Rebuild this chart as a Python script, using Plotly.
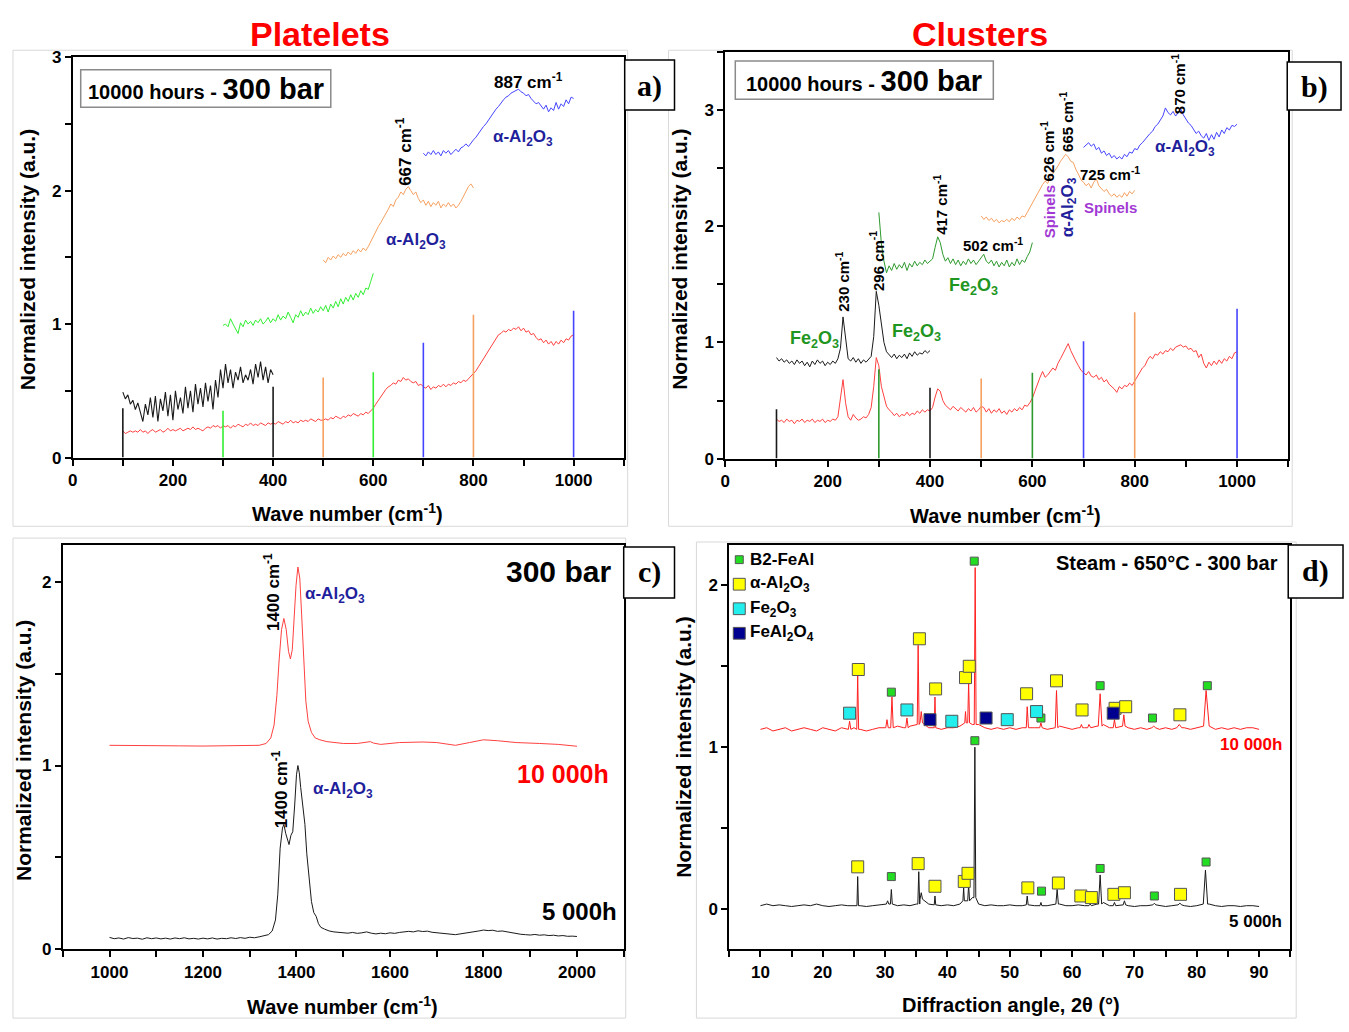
import plotly.graph_objects as go

W, H = 1349, 1032
SANS = "Liberation Sans, Arial, sans-serif"
SERIF = "Liberation Serif, Times New Roman, serif"

# ---------------- (a) Platelets, Raman spectra ----------------
a_black_x = list(range(100, 405, 5))
a_black_y = [0.49, 0.44, 0.47, 0.40, 0.43, 0.36, 0.41, 0.33, 0.27, 0.40, 0.32, 0.45, 0.30, 0.46, 0.27,
             0.44, 0.35, 0.49, 0.31, 0.47, 0.28, 0.50, 0.36, 0.45, 0.33, 0.53, 0.37, 0.50, 0.34, 0.55,
             0.40, 0.52, 0.38, 0.56, 0.42, 0.54, 0.36, 0.58, 0.45, 0.66, 0.52, 0.70, 0.56, 0.66, 0.52,
             0.64, 0.58, 0.68, 0.56, 0.62, 0.58, 0.66, 0.55, 0.70, 0.60, 0.72, 0.58, 0.68, 0.56, 0.66, 0.62]
a_green_x = list(range(300, 605, 5))
a_green_y = [0.99, 1.00, 0.98, 1.04, 1.00, 0.96, 0.93, 1.01, 0.98, 1.03, 1.00, 1.02, 0.99, 1.03, 1.01,
             1.04, 1.00, 1.02, 1.05, 1.01, 1.04, 1.02, 1.07, 1.03, 1.06, 1.04, 1.09, 1.05, 1.01, 1.07,
             1.05, 1.10, 1.06, 1.09, 1.07, 1.12, 1.08, 1.11, 1.09, 1.13, 1.10, 1.14, 1.09, 1.15, 1.12,
             1.17, 1.13, 1.19, 1.15, 1.20, 1.17, 1.22, 1.18, 1.23, 1.20, 1.25, 1.22, 1.27, 1.26, 1.32, 1.38]
a_orange_x = list(range(500, 805, 5))
a_orange_y = [1.48, 1.46, 1.50, 1.48, 1.51, 1.49, 1.52, 1.50, 1.53, 1.51, 1.54, 1.52, 1.55, 1.53, 1.56,
              1.54, 1.57, 1.55, 1.58, 1.62, 1.66, 1.69, 1.73, 1.76, 1.79, 1.83, 1.86, 1.90, 1.88, 1.93,
              1.95, 1.99, 1.97, 2.01, 2.03, 2.00, 1.97, 1.99, 1.94, 1.91, 1.93, 1.89, 1.92, 1.88, 1.91,
              1.89, 1.92, 1.87, 1.90, 1.88, 1.91, 1.88, 1.90, 1.87, 1.89, 1.92, 1.96, 1.99, 2.03, 2.05, 2.02]
a_blue_x = list(range(700, 1005, 5))
a_blue_y = [2.28, 2.26, 2.29, 2.27, 2.30, 2.27, 2.29, 2.26, 2.30, 2.28, 2.30, 2.27, 2.29, 2.31, 2.29,
            2.32, 2.33, 2.35, 2.33, 2.36, 2.38, 2.40, 2.43, 2.45, 2.48, 2.50, 2.53, 2.55, 2.58, 2.61,
            2.63, 2.66, 2.68, 2.70, 2.71, 2.73, 2.74, 2.75, 2.76, 2.74, 2.73, 2.71, 2.72, 2.69, 2.67,
            2.65, 2.66, 2.63, 2.61, 2.64, 2.59, 2.62, 2.60, 2.66, 2.61, 2.65, 2.63, 2.68, 2.65, 2.70, 2.69]
a_red_x = list(range(100, 1005, 5))
a_red_y = [0.20, 0.18, 0.19, 0.20, 0.19, 0.20, 0.19, 0.21, 0.19, 0.20, 0.18, 0.20, 0.21, 0.19, 0.20,
           0.21, 0.19, 0.20, 0.22, 0.20, 0.21,
           0.20, 0.21, 0.22, 0.20, 0.21, 0.22, 0.21, 0.23, 0.21, 0.22, 0.21, 0.20, 0.22, 0.23, 0.22,
           0.24, 0.23, 0.24, 0.22, 0.24,
           0.23, 0.24, 0.22, 0.24, 0.23, 0.25, 0.24, 0.23, 0.25, 0.24, 0.26, 0.24, 0.25, 0.24, 0.26,
           0.25, 0.24, 0.26, 0.25, 0.26,
           0.25, 0.27, 0.26, 0.25, 0.27, 0.26, 0.28, 0.26, 0.27, 0.26, 0.28, 0.27, 0.28, 0.27, 0.29,
           0.28, 0.27, 0.29, 0.28, 0.28,
           0.29, 0.28, 0.30, 0.29, 0.31, 0.30, 0.29, 0.31, 0.30, 0.32, 0.31, 0.33, 0.32, 0.31, 0.33,
           0.32, 0.34, 0.33, 0.35, 0.37,
           0.40, 0.43, 0.46, 0.48, 0.51, 0.53, 0.54, 0.56, 0.55, 0.58, 0.57, 0.60, 0.58, 0.59, 0.57,
           0.56, 0.57, 0.54, 0.55, 0.53,
           0.52, 0.54, 0.51, 0.53, 0.52, 0.54, 0.53, 0.55, 0.53, 0.55, 0.54, 0.56, 0.55, 0.57, 0.56,
           0.58, 0.57, 0.59, 0.61, 0.63,
           0.65, 0.68, 0.71, 0.74, 0.77, 0.81, 0.84, 0.87, 0.90, 0.92, 0.93, 0.95, 0.94, 0.96, 0.95,
           0.97, 0.96, 0.98, 0.95, 0.97,
           0.94, 0.95, 0.92, 0.93, 0.90, 0.88, 0.89, 0.86, 0.88, 0.85, 0.87, 0.84, 0.87, 0.85, 0.88,
           0.86, 0.89, 0.88, 0.91, 0.92]
# reference bars marking the ends of each acquisition window
a_ref_x = [100, 400, 300, 600, 500, 800, 700, 1000]
a_ref_top = [0.37, 0.53, 0.35, 0.64, 0.60, 1.07, 0.86, 1.10]

# ---------------- (b) Clusters, Raman spectra ----------------
b_black_x = list(range(100, 405, 5))
b_black_y = [0.87, 0.84, 0.86, 0.83, 0.85, 0.82, 0.84, 0.81, 0.85, 0.82, 0.84, 0.80, 0.83, 0.79, 0.84,
             0.81, 0.85, 0.82, 0.84, 0.80, 0.83, 0.81, 0.84, 0.82, 0.86, 0.95, 1.22, 1.02, 0.86, 0.84,
             0.87, 0.83, 0.86, 0.82, 0.85, 0.83, 0.86, 0.88, 1.05, 1.44, 1.32, 1.15, 1.00, 0.92, 0.89,
             0.87, 0.90, 0.86, 0.89, 0.87, 0.90, 0.86, 0.91, 0.88, 0.92, 0.89, 0.91, 0.90, 0.93, 0.91, 0.93]
b_green_x = list(range(300, 605, 5))
b_green_y = [2.12, 1.85, 1.70, 1.60, 1.66, 1.62, 1.68, 1.63, 1.67, 1.64, 1.69, 1.62, 1.68, 1.65, 1.70,
             1.66, 1.69, 1.67, 1.71, 1.68, 1.70, 1.72, 1.82, 1.91, 1.86, 1.76, 1.70, 1.73, 1.68, 1.72,
             1.67, 1.71, 1.66, 1.70, 1.67, 1.72, 1.68, 1.71, 1.67, 1.70, 1.74, 1.76, 1.70, 1.68, 1.71,
             1.66, 1.70, 1.65, 1.69, 1.66, 1.71, 1.65, 1.69, 1.66, 1.72, 1.67, 1.71, 1.69, 1.74, 1.78, 1.86]
b_orange_x = list(range(500, 805, 5))
b_orange_y = [2.09, 2.06, 2.08, 2.05, 2.07, 2.04, 2.06, 2.03, 2.05, 2.04, 2.06, 2.04, 2.07, 2.05, 2.08,
              2.06, 2.09, 2.08, 2.12, 2.16, 2.20, 2.25, 2.28, 2.32, 2.36, 2.39, 2.37, 2.42, 2.45, 2.48,
              2.52, 2.56, 2.59, 2.62, 2.60, 2.56, 2.55, 2.49, 2.45, 2.40, 2.38, 2.35, 2.37, 2.33, 2.38,
              2.41, 2.35, 2.32, 2.30, 2.32, 2.28, 2.26, 2.28, 2.25, 2.27, 2.25, 2.29, 2.26, 2.30, 2.28, 2.31]
b_blue_x = list(range(700, 1005, 5))
b_blue_y = [2.68, 2.70, 2.72, 2.69, 2.71, 2.66, 2.68, 2.63, 2.65, 2.61, 2.63, 2.59, 2.61, 2.58, 2.60,
            2.58, 2.62, 2.60, 2.64, 2.63, 2.67, 2.66, 2.70, 2.72, 2.75, 2.77, 2.80, 2.82, 2.86, 2.88,
            2.91, 2.95, 3.02, 2.98, 2.96, 2.99, 2.95, 2.98, 3.01, 2.96, 2.92, 2.89, 2.87, 2.84, 2.80,
            2.82, 2.78, 2.76, 2.80, 2.74, 2.79, 2.75, 2.81, 2.77, 2.83, 2.80, 2.85, 2.83, 2.87, 2.86, 2.88]
b_red_x = list(range(100, 1005, 5))
b_red_y = [0.34, 0.32, 0.33, 0.31, 0.34, 0.32, 0.33, 0.30, 0.33, 0.32, 0.34, 0.31, 0.33, 0.32, 0.34,
           0.31, 0.33, 0.32, 0.34, 0.31, 0.33,
           0.32, 0.34, 0.33, 0.36, 0.50, 0.68, 0.48, 0.36, 0.33, 0.38, 0.35, 0.33, 0.34, 0.36, 0.35,
           0.38, 0.44, 0.62, 0.87, 0.80,
           0.62, 0.52, 0.45, 0.42, 0.40, 0.37, 0.39, 0.36, 0.38, 0.37, 0.40, 0.37, 0.39, 0.38, 0.41,
           0.39, 0.42, 0.40, 0.42, 0.41,
           0.44, 0.53, 0.60, 0.58, 0.50, 0.46, 0.44, 0.42, 0.45, 0.43, 0.41, 0.44, 0.42, 0.40, 0.43,
           0.41, 0.44, 0.40, 0.42, 0.45,
           0.44, 0.40, 0.43, 0.39, 0.42, 0.40, 0.43, 0.39, 0.41, 0.38, 0.42, 0.40, 0.43, 0.41, 0.44,
           0.42, 0.46, 0.45, 0.48, 0.52,
           0.58, 0.65, 0.70, 0.75, 0.70, 0.72, 0.75, 0.78, 0.76, 0.82, 0.86, 0.90, 0.94, 0.99, 0.93,
           0.88, 0.84, 0.80, 0.76, 0.74,
           0.72, 0.75, 0.71, 0.70, 0.72, 0.68, 0.70, 0.66, 0.68, 0.64, 0.62, 0.60, 0.57, 0.62, 0.60,
           0.63, 0.62, 0.65, 0.63, 0.67,
           0.70, 0.74, 0.78, 0.80, 0.85, 0.88, 0.86, 0.90, 0.89, 0.92, 0.90, 0.93, 0.92, 0.95, 0.93,
           0.96, 0.97, 0.98, 0.96, 0.97,
           0.94, 0.95, 0.92, 0.93, 0.87, 0.90, 0.82, 0.78, 0.83, 0.80, 0.84, 0.81, 0.85, 0.82, 0.86,
           0.84, 0.88, 0.86, 0.91, 0.92]
b_ref_x = [100, 400, 300, 600, 500, 800, 700, 1000]
b_ref_top = [0.425, 0.61, 0.77, 0.74, 0.69, 1.26, 1.01, 1.29]

# ---------------- (c) 1000-2000 cm-1 region ----------------
c_red_x = [1000, 1050, 1100, 1150, 1200, 1250, 1300, 1320, 1335, 1345, 1352, 1358, 1363, 1368, 1373,
           1378, 1383, 1387, 1391, 1395, 1399, 1403, 1407, 1411, 1415, 1420, 1425, 1432, 1440, 1450,
           1465, 1480, 1500, 1530, 1550, 1558, 1565, 1580, 1620, 1670, 1700, 1740, 1770, 1800, 1830,
           1870, 1920, 1960, 2000]
c_red_y = [1.110, 1.108, 1.108, 1.107, 1.106, 1.106, 1.107, 1.110, 1.120, 1.150, 1.220, 1.380, 1.580,
           1.740, 1.800, 1.740, 1.620, 1.580, 1.630, 1.800, 1.980, 2.080, 2.020, 1.820, 1.580, 1.350,
           1.240, 1.180, 1.150, 1.140, 1.130, 1.125, 1.120, 1.120, 1.125, 1.130, 1.122, 1.115, 1.125,
           1.128, 1.125, 1.110, 1.125, 1.140, 1.135, 1.125, 1.120, 1.115, 1.105]
c_black_x = ([1000, 1010, 1020, 1030, 1040, 1050, 1060, 1070, 1080, 1090, 1100, 1110, 1120, 1130, 1140,
              1150, 1160, 1170, 1180, 1190, 1200, 1210, 1220, 1230, 1240, 1250, 1260, 1270, 1280, 1290,
              1300, 1310, 1320, 1330]
             + [1340, 1348, 1355, 1360, 1365, 1370, 1373, 1377, 1381, 1384, 1388, 1392, 1396, 1400, 1403,
                1406, 1409, 1412, 1415, 1418, 1422, 1427, 1432, 1437, 1442, 1447, 1452, 1460, 1470, 1480,
                1490]
             + [1500, 1510, 1520, 1530, 1540, 1550, 1560, 1570, 1580, 1590, 1600, 1610, 1620, 1630, 1640,
                1650, 1660, 1670, 1680, 1690, 1700, 1710, 1720, 1730, 1740, 1750, 1760, 1770, 1780, 1790,
                1800, 1810, 1820, 1830, 1840, 1850, 1860, 1870, 1880, 1890, 1900, 1910, 1920, 1930, 1940,
                1950, 1960, 1970, 1980, 1990, 2000])
c_black_y = ([0.065, 0.058, 0.062, 0.056, 0.064, 0.059, 0.061, 0.055, 0.063, 0.058, 0.062, 0.057, 0.061,
              0.056, 0.062, 0.058, 0.063, 0.057, 0.060, 0.056, 0.061, 0.057, 0.062, 0.056, 0.060, 0.058,
              0.063, 0.059, 0.064, 0.060, 0.066, 0.063, 0.068, 0.072]
             + [0.080, 0.100, 0.160, 0.300, 0.550, 0.660, 0.680, 0.630, 0.600, 0.570, 0.620, 0.640, 0.780,
                0.950, 1.000, 0.960, 0.880, 0.800, 0.760, 0.680, 0.520, 0.380, 0.260, 0.200, 0.180, 0.140,
                0.120, 0.110, 0.100, 0.095, 0.092]
             + [0.090, 0.088, 0.092, 0.087, 0.090, 0.095, 0.088, 0.084, 0.088, 0.085, 0.090, 0.087, 0.092,
                0.094, 0.098, 0.095, 0.101, 0.097, 0.099, 0.093, 0.090, 0.087, 0.085, 0.082, 0.080, 0.084,
                0.087, 0.090, 0.095, 0.100, 0.105, 0.102, 0.104, 0.098, 0.100, 0.095, 0.090, 0.084, 0.082,
                0.080, 0.078, 0.081, 0.077, 0.079, 0.075, 0.077, 0.073, 0.075, 0.071, 0.072, 0.070])

# ---------------- (d) XRD patterns ----------------
d_base_x = list(range(10, 91))
d_red_base = [1.11, 1.12, 1.10, 1.11, 1.12, 1.10, 1.11, 1.12, 1.11, 1.10, 1.12, 1.11, 1.10, 1.12, 1.11,
              1.12, 1.11, 1.10, 1.11, 1.12, 1.12, 1.12, 1.13, 1.12, 1.13, 1.14, 1.15, 1.12, 1.12, 1.11,
              1.12, 1.12, 1.13, 1.15, 1.14, 1.14, 1.12, 1.11, 1.12, 1.11, 1.12, 1.11, 1.12, 1.12, 1.12,
              1.12, 1.11, 1.12, 1.13, 1.12, 1.11, 1.12, 1.12, 1.12, 1.13, 1.14, 1.12, 1.12, 1.13, 1.12,
              1.11, 1.12, 1.11, 1.12, 1.11, 1.12, 1.11, 1.12, 1.12, 1.11, 1.12, 1.13, 1.13, 1.11, 1.12,
              1.11, 1.12, 1.11, 1.12, 1.12, 1.11]
d_black_base = [0.020, 0.030, 0.020, 0.025, 0.020, 0.015, 0.020, 0.025, 0.020, 0.030, 0.020, 0.015,
                0.020, 0.025, 0.020, 0.020, 0.020, 0.015, 0.020, 0.025, 0.030, 0.030, 0.020, 0.025,
                0.020, 0.030, 0.060, 0.030, 0.025, 0.020, 0.025, 0.020, 0.030, 0.050, 0.070, 0.030,
                0.020, 0.025, 0.020, 0.020, 0.025, 0.020, 0.020, 0.025, 0.020, 0.020, 0.020, 0.025,
                0.030, 0.020, 0.020, 0.025, 0.020, 0.020, 0.030, 0.040, 0.020, 0.020, 0.025, 0.020,
                0.015, 0.020, 0.020, 0.025, 0.020, 0.015, 0.020, 0.025, 0.020, 0.015, 0.020, 0.030,
                0.030, 0.020, 0.015, 0.020, 0.020, 0.015, 0.020, 0.020, 0.015]
# reflections: 2-theta position, peak intensity, half width at the foot
d_red_pk_pos = [24.3, 25.6, 30.3, 31.1, 33.5, 35.3, 35.8, 38.0, 42.9, 43.4, 44.45, 52.8, 55.0, 57.5,
                61.5, 62.7, 64.5, 66.8, 68.3, 73.1, 77.2, 81.5]
d_red_pk_h = [1.16, 1.44, 1.17, 1.31, 1.18, 1.63, 1.22, 1.31, 1.22, 1.40, 2.11, 1.25, 1.15, 1.35,
              1.14, 1.14, 1.33, 1.17, 1.20, 1.13, 1.14, 1.35]
d_red_pk_hw = [0.2, 0.15, 0.2, 0.2, 0.2, 0.15, 0.2, 0.12, 0.12, 0.15, 0.15, 0.15, 0.2, 0.2,
               0.2, 0.2, 0.3, 0.2, 0.2, 0.3, 0.4, 0.4]
d_black_pk_pos = [25.6, 30.4, 31.0, 35.4, 35.8, 38.0, 42.6, 43.4, 44.4, 52.8, 55.0, 57.6, 62.9, 64.5,
                  66.8, 68.4, 73.2, 77.3, 81.4]
d_black_pk_h = [0.20, 0.05, 0.12, 0.23, 0.10, 0.08, 0.13, 0.15, 1.00, 0.08, 0.04, 0.12, 0.03, 0.21,
                0.04, 0.05, 0.035, 0.035, 0.24]
d_black_pk_hw = [0.12, 0.2, 0.15, 0.15, 0.2, 0.12, 0.12, 0.15, 0.15, 0.15, 0.15, 0.2, 0.2, 0.25,
                 0.2, 0.2, 0.25, 0.3, 0.35]
# phase identification markers
fe_al_x = [31.0, 44.3, 55.0, 64.5, 72.9, 81.7, 31.0, 44.4, 55.1, 64.5, 73.2, 81.5]
fe_al_y = [1.34, 2.15, 1.18, 1.38, 1.18, 1.38, 0.20, 1.04, 0.11, 0.25, 0.08, 0.29]
alumina_x = [25.7, 35.5, 38.1, 42.9, 43.5, 52.7, 57.5, 61.6, 66.9, 68.6, 77.3,
             25.6, 35.3, 38.0, 42.7, 43.3, 52.9, 57.8, 61.4, 63.1, 66.7, 68.4, 77.4]
alumina_y = [1.48, 1.67, 1.36, 1.43, 1.50, 1.33, 1.41, 1.23, 1.24, 1.25, 1.20,
             0.26, 0.28, 0.14, 0.17, 0.22, 0.13, 0.16, 0.08, 0.07, 0.09, 0.10, 0.09]
hematite_x = [24.3, 33.5, 40.7, 49.6, 54.3]
hematite_y = [1.21, 1.23, 1.16, 1.17, 1.22]
spinel_x = [37.2, 46.2, 66.6]
spinel_y = [1.17, 1.18, 1.21]
legend_labels = ["B2-FeAl", "α-Al<sub>2</sub>O<sub>3</sub>", "Fe<sub>2</sub>O<sub>3</sub>",
                 "FeAl<sub>2</sub>O<sub>4</sub>"]


def xrd_profile(base_x, base_y, pk_pos, pk_h, pk_hw):
    """Merge a background with narrow triangular reflections."""
    pts = [(bx, by) for bx, by in zip(base_x, base_y)
           if all(abs(bx - p) > w for p, w in zip(pk_pos, pk_hw))]
    for p, h, w in zip(pk_pos, pk_h, pk_hw):
        i = min(range(len(base_x)), key=lambda k: abs(base_x[k] - p))
        b = base_y[i]
        pts += [(p - w, b), (p, h), (p + w, b)]
    pts.sort()
    return [q[0] for q in pts], [q[1] for q in pts]


for xs, ys in [(a_black_x, a_black_y), (a_green_x, a_green_y), (a_orange_x, a_orange_y),
               (a_blue_x, a_blue_y), (a_red_x, a_red_y), (b_black_x, b_black_y),
               (b_green_x, b_green_y), (b_orange_x, b_orange_y), (b_blue_x, b_blue_y),
               (b_red_x, b_red_y), (c_red_x, c_red_y), (c_black_x, c_black_y),
               (d_base_x, d_red_base), (d_base_x, d_black_base)]:
    assert len(xs) == len(ys), (len(xs), len(ys))

RED = "#ff4040"
BLACK = "#1a1a1a"
LIME = "#33ee33"
DKGREEN = "#2e9a2e"
ORANGE = "#f5a060"
BLUE = "#4545ff"
NAVY = "#1f1f9c"
TXTGREEN = "#1f961f"
MAGENTA = "#a238d4"

fig = go.Figure()


def line(xs, ys, color, ax, width=1.0):
    fig.add_trace(go.Scatter(x=xs, y=ys, mode="lines", line=dict(color=color, width=width),
                             xaxis="x" + ax, yaxis="y" + ax, showlegend=False, hoverinfo="skip"))


def ref_bars(xs, tops, colors, ax):
    for x, t, c in zip(xs, tops, colors):
        line([x, x], [0, t], c, ax, width=1.6)


# panel a
line(a_red_x, a_red_y, RED, "")
line(a_black_x, a_black_y, BLACK, "", 1.1)
line(a_green_x, a_green_y, LIME, "")
line(a_orange_x, a_orange_y, ORANGE, "")
line(a_blue_x, a_blue_y, BLUE, "")
ref_bars(a_ref_x, a_ref_top, [BLACK, BLACK, LIME, LIME, ORANGE, ORANGE, BLUE, BLUE], "")

# panel b
line(b_red_x, b_red_y, RED, "2")
line(b_black_x, b_black_y, BLACK, "2")
line(b_green_x, b_green_y, DKGREEN, "2")
line(b_orange_x, b_orange_y, ORANGE, "2")
line(b_blue_x, b_blue_y, BLUE, "2")
ref_bars(b_ref_x, b_ref_top, [BLACK, BLACK, DKGREEN, DKGREEN, ORANGE, ORANGE, BLUE, BLUE], "2")

# panel c
line(c_red_x, c_red_y, RED, "3")
line(c_black_x, c_black_y, BLACK, "3")

# panel d
rx, ry = xrd_profile(d_base_x, d_red_base, d_red_pk_pos, d_red_pk_h, d_red_pk_hw)
bx, by = xrd_profile(d_base_x, d_black_base, d_black_pk_pos, d_black_pk_h, d_black_pk_hw)
line(rx, ry, "#ff2020", "4")
line(bx, by, BLACK, "4")

phase_styles = [("#22dd22", 8), ("#ffff00", 12), ("#22eeee", 12), ("#000090", 12)]
for (px_, py_), (col, sz) in zip([(fe_al_x, fe_al_y), (alumina_x, alumina_y),
                                  (hematite_x, hematite_y), (spinel_x, spinel_y)], phase_styles):
    fig.add_trace(go.Scatter(x=px_, y=py_, mode="markers", xaxis="x4", yaxis="y4", showlegend=False,
                             marker=dict(symbol="square", size=sz, color=col,
                                         line=dict(color="#555555", width=1)),
                             hoverinfo="skip"))


def dom(x0, x1, y0, y1):
    return [x0 / W, x1 / W], [1 - y1 / H, 1 - y0 / H]


TICKFONT = dict(family=SANS, size=17, color="black", weight="bold")


def axis(rng, domain, anchor, vals, labels):
    return dict(range=rng, domain=domain, anchor=anchor, showline=True, linewidth=2, linecolor="black",
                mirror=True, ticks="outside", ticklen=6, tickwidth=1.5, tickcolor="black",
                tickvals=vals, ticktext=labels, tickfont=TICKFONT, showgrid=False, zeroline=False)


def labels_every(vals, step, fmt=str):
    return [fmt(v) if abs(v / step - round(v / step)) < 1e-9 else "" for v in vals]


ax_a_x = list(range(0, 1200, 100))
ax_a_y = [0, 0.5, 1, 1.5, 2, 2.5, 3]
ax_b_y = [0, 0.5, 1, 1.5, 2, 2.5, 3, 3.5]
ax_c_x = list(range(900, 2200, 100))
ax_c_y = [0, 0.5, 1, 1.5, 2]
ax_d_x = list(range(5, 100, 5))
ax_d_y = [0, 0.5, 1, 1.5, 2]

fmt_int = lambda v: str(int(v))

xd, yd = dom(68, 621, 49, 457)
fig.update_layout(xaxis=axis([0, 1100], xd, "y", ax_a_x, labels_every(ax_a_x, 200, fmt_int)),
                  yaxis=axis([0, 3], yd, "x", ax_a_y, labels_every(ax_a_y, 1, fmt_int)))
xd, yd = dom(723, 1288, 44, 458)
fig.update_layout(xaxis2=axis([0, 1100], xd, "y2", ax_a_x, labels_every(ax_a_x, 200, fmt_int)),
                  yaxis2=axis([0, 3.5], yd, "x2", ax_b_y, labels_every(ax_b_y, 1, fmt_int)))
xd, yd = dom(58, 621, 546, 958)
fig.update_layout(xaxis3=axis([900, 2100], xd, "y3", ax_c_x, labels_every(ax_c_x, 200, fmt_int)),
                  yaxis3=axis([0, 2.2], yd, "x3", ax_c_y, labels_every(ax_c_y, 1, fmt_int)))
xd, yd = dom(727, 1290, 546, 958)
fig.update_layout(xaxis4=axis([5, 95], xd, "y4", ax_d_x, labels_every(ax_d_x, 10, fmt_int)),
                  yaxis4=axis([-0.25, 2.25], yd, "x4", ax_d_y, labels_every(ax_d_y, 1, fmt_int)))

ann = []
shapes = []


def note(txt, x, y, size, color="black", angle=0, bold=True, family=SANS, xanchor="center"):
    ann.append(dict(text=f"<b>{txt}</b>" if bold else txt, x=x / W, y=1 - y / H, xref="paper",
                    yref="paper", showarrow=False, textangle=angle, xanchor=xanchor, yanchor="middle",
                    font=dict(size=size, color=color, family=family)))


def rect(x0, y0, x1, y1, color, width, fill=None, layer="above"):
    shapes.append(dict(type="rect", xref="paper", yref="paper", x0=x0 / W, x1=x1 / W,
                       y0=1 - y1 / H, y1=1 - y0 / H, line=dict(color=color, width=width),
                       fillcolor=fill if fill else "rgba(0,0,0,0)", layer=layer))


CM = "cm<sup>-1</sup>"
AL2O3 = "α-Al<sub>2</sub>O<sub>3</sub>"
FE2O3 = "Fe<sub>2</sub>O<sub>3</sub>"
YT = "Normalized intensity (a.u.)"
XT = f"Wave number ({CM})"

# panel frames
rect(8, 42, 625, 527, "#d9d9d9", 1, layer="below")
rect(666, 42, 1292, 527, "#d9d9d9", 1, layer="below")
rect(8, 539, 623, 1028, "#d9d9d9", 1, layer="below")
rect(694, 543, 1296, 1028, "#d9d9d9", 1, layer="below")

# column titles
note("Platelets", 316, 25, 34, "#ff0000")
note("Clusters", 979, 25, 34, "#ff0000")

# panel a
note(YT, 22, 255, 21, angle=-90)
note(XT, 344, 513, 20)
rect(76, 62, 327, 100, "#8a8a8a", 1.5, "white")
note("10000 hours - <span style='font-size:29px'>300 bar</span>", 201.5, 82, 20)
note(f"887 {CM}", 525, 73, 17)
note(f"667 {CM}", 401, 145, 17, angle=-90)
note(AL2O3, 520, 131, 17, NAVY)
note(AL2O3, 413, 236, 17, NAVY)
rect(622, 52, 672, 103, "black", 1.5, "white")
note("a)", 647, 78, 30, family=SERIF)

# panel b
note(YT, 677, 255, 21, angle=-90)
note(XT, 1004, 515, 20)
rect(733, 53, 992, 92, "#8a8a8a", 1.5, "white")
note("10000 hours - <span style='font-size:29px'>300 bar</span>", 862.5, 73, 20)
note(FE2O3, 813, 337, 18, TXTGREEN)
note(FE2O3, 915, 330, 18, TXTGREEN)
note(FE2O3, 972, 283, 18, TXTGREEN)
note(f"230 {CM}", 841, 278, 15, angle=-90)
note(f"296 {CM}", 875, 257, 15, angle=-90)
note(f"417 {CM}", 939, 200, 15, angle=-90)
note(f"502 {CM}", 992, 240, 15)
note(f"626 {CM}", 1046, 145, 15, angle=-90)
note(f"665 {CM}", 1066, 115, 15, angle=-90)
note("Spinels", 1048, 207, 15, MAGENTA, angle=-90)
note(AL2O3, 1068, 202, 17, NAVY, angle=-90)
note(f"725 {CM}", 1109, 168, 15)
note("Spinels", 1110, 202, 15, MAGENTA)
note(f"870 {CM}", 1178, 77, 15, angle=-90)
note(AL2O3, 1184, 142, 17, NAVY)
rect(1287, 54, 1341, 103, "black", 1.5, "white")
note("b)", 1314, 79, 30, family=SERIF)

# panel c
note(YT, 18, 755, 21, angle=-90)
note(XT, 339, 1015, 20)
note(f"1400 {CM}", 268, 594, 17, angle=-90)
note(AL2O3, 331, 597, 17, NAVY)
note("300 bar", 556, 573, 30)
note("10 000h", 560, 779, 25, "#ff0000")
note(f"1400 {CM}", 276, 795, 17, angle=-90)
note(AL2O3, 339, 796, 17, NAVY)
note("5 000h", 577, 919, 24)
rect(621, 548, 672, 600, "black", 1.5, "white")
note("c)", 646.5, 574, 30, family=SERIF)

# panel d
note(YT, 681, 752, 21, angle=-90)
note("Diffraction angle, 2θ (°)", 1010, 1015, 20)
note("Steam - 650°C - 300 bar", 1166, 564, 20)
note("10 000h", 1251, 749, 17, "#ff0000")
note("5 000h", 1255, 930, 17)
rect(1288, 546, 1343, 600, "black", 1.5, "white")
note("d)", 1315.5, 573, 30, family=SERIF)

# phase key
for (col, sz), lab, yy in zip(phase_styles, legend_labels, [561, 586, 611, 636]):
    h = sz / 2
    rect(737 - h, yy - h, 737 + h, yy + h, "#555555", 1, col)
    note(lab, 746, yy, 17, xanchor="left")

fig.update_layout(width=W, height=H, margin=dict(l=0, r=0, t=0, b=0), paper_bgcolor="white",
                  plot_bgcolor="white", annotations=ann, shapes=shapes, showlegend=False,
                  font=dict(family=SANS))
fig.write_html("out.html")
